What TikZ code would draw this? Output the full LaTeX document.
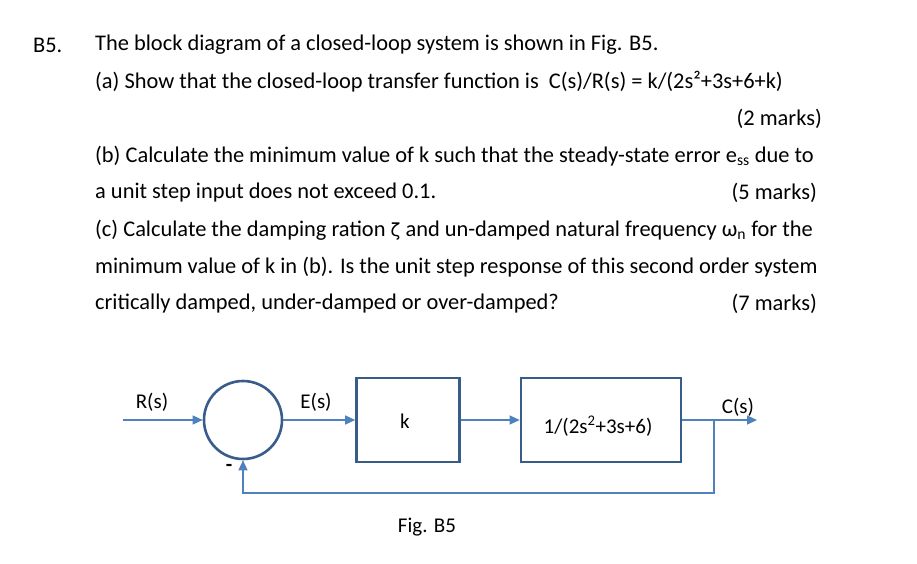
\documentclass[tikz,border=0pt]{standalone}
\usepackage{fontspec}
\setmainfont{Carlito}
\usetikzlibrary{arrows.meta}
\definecolor{ln}{RGB}{79,129,189}
\definecolor{bx}{RGB}{56,93,138}
\begin{document}
\begin{tikzpicture}[x=1pt,y=-1pt,
  txt/.style={anchor=west,inner sep=0pt,font=\fontsize{22.4}{26}\selectfont},
  lbl/.style={inner sep=0pt,font=\fontsize{21}{24}\selectfont},
  blk/.style={draw=bx,line width=2.6pt,inner sep=0pt},
  wire/.style={ln,line width=1.3pt},
  arr/.style={wire,-{Triangle[length=10pt,width=9pt]}}]
\useasboundingbox (0,0) rectangle (917,563);
\node[txt] (q) at (33,45) {B5.};
\node[txt] (l1) at (95,45) {The block diagram of a closed-loop system is shown in Fig. B5.};
\node[txt] (l2) at (95,82) {(a) Show that the closed-loop transfer function is\ \ C(s)/R(s) = k/(2s²+3s+6+k)};
\node[txt,anchor=east] (m1) at (822,119) {(2 marks)};
\node[txt] (l3) at (95,156) {(b) Calculate the minimum value of k such that the steady-state error e\textsubscript{ss} due to};
\node[txt] (l4) at (95,193) {a unit step input does not exceed 0.1.};
\node[txt,anchor=east] (m2) at (817,193) {(5 marks)};
\node[txt] (l5) at (95,230) {(c) Calculate the damping ration \fontspec{DejaVu Sans}\fontsize{18}{22}\selectfont ζ\fontspec{Carlito}\fontsize{22.4}{26}\selectfont\ and un-damped natural frequency ω\textsubscript{n} for the};
\node[txt] (l6) at (95,267) {minimum value of k in (b). Is the unit step response of this second order system};
\node[txt] (l7) at (95,304) {critically damped, under-damped or over-damped?};
\node[txt,anchor=east] (m3) at (817,304) {(7 marks)};
% diagram
\node[draw=bx,line width=2.6pt,circle,minimum size=78pt,inner sep=0pt] (sum) at (243,420) {};
\node[blk,minimum width=103pt,minimum height=84pt] (k) at (408,420) {};
\node[lbl] at (405,421) {k};
\node[blk,minimum width=160pt,minimum height=84pt] (g) at (601,420) {};
\node[lbl] at (598,426) {1/(2s\textsuperscript{2}+3s+6)};
\coordinate (in) at (123,420);
\coordinate (out) at (757,420);
\coordinate (br) at (714,420);
\coordinate (b1) at (714,493);
\coordinate (b2) at (243,493);
\draw[arr] (in) -- (sum.west);
\draw[arr] (sum.east) -- (k.west);
\draw[arr] (k.east) -- (g.west);
\draw[arr] (g.east) -- (out);
\draw[arr] (br) -- (b1) -- (b2) -- (sum.south);
\node[lbl] (R) at (152,402) {R(s)};
\node[lbl] (E) at (316,402) {E(s)};
\node[lbl] (C) at (738,407) {C(s)};
\node[lbl,font=\bfseries\fontsize{21}{24}\selectfont] (minus) at (229,468) {-};
\node[lbl] (fig) at (427,527) {Fig. B5};
\end{tikzpicture}
\end{document}
